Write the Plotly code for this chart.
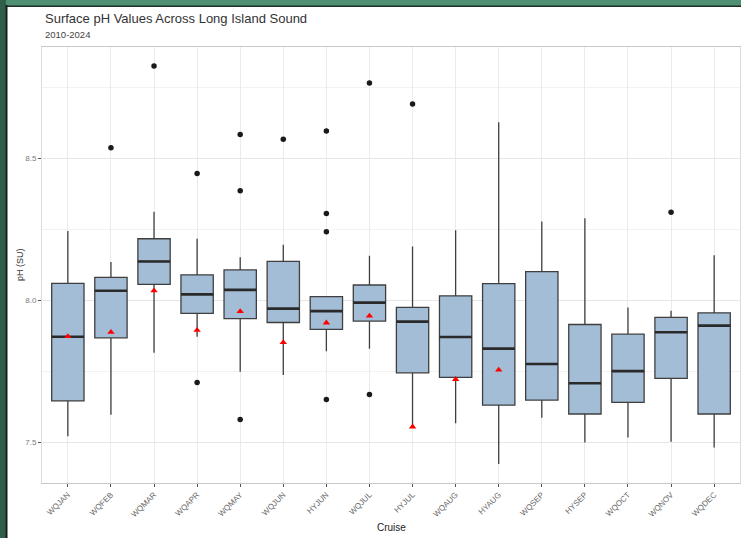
import plotly.graph_objects as go

# ---------------- data ----------------
cruises = ["WQJAN", "WQFEB", "WQMAR", "WQAPR", "WQMAY", "WQJUN", "HYJUN", "WQJUL",
           "HYJUL", "WQAUG", "HYAUG", "WQSEP", "HYSEP", "WQOCT", "WQNOV", "WQDEC"]
q1 = [7.645, 7.867, 8.055, 7.953, 7.935, 7.921, 7.897, 7.926,
      7.744, 7.728, 7.630, 7.648, 7.599, 7.640, 7.724, 7.599]
median = [7.871, 8.033, 8.136, 8.020, 8.036, 7.970, 7.961, 7.991,
          7.924, 7.870, 7.829, 7.775, 7.707, 7.750, 7.887, 7.910]
q3 = [8.059, 8.080, 8.216, 8.089, 8.106, 8.136, 8.012, 8.053,
      7.974, 8.015, 8.058, 8.100, 7.914, 7.880, 7.939, 7.955]
lower_whisker = [7.521, 7.596, 7.815, 7.871, 7.748, 7.736, 7.820, 7.829,
                 7.554, 7.566, 7.423, 7.586, 7.499, 7.516, 7.501, 7.481]
upper_whisker = [8.243, 8.134, 8.311, 8.216, 8.151, 8.195, 8.012, 8.156,
                 8.189, 8.246, 8.626, 8.277, 8.288, 7.974, 7.962, 8.158]
mean_cruise = ["WQJAN", "WQFEB", "WQMAR", "WQAPR", "WQMAY", "WQJUN", "HYJUN",
               "WQJUL", "HYJUL", "WQAUG", "HYAUG"]
mean_value = [7.872, 7.887, 8.033, 7.894, 7.960, 7.851, 7.920,
              7.944, 7.554, 7.721, 7.754]
outlier_cruise = ["WQFEB", "WQMAR", "WQAPR", "WQAPR", "WQMAY", "WQMAY", "WQMAY",
                  "WQJUN", "HYJUN", "HYJUN", "HYJUN", "HYJUN", "WQJUL", "WQJUL",
                  "HYJUL", "WQNOV"]
outlier_value = [8.536, 8.824, 8.446, 7.710, 8.583, 8.385, 7.580,
                 8.566, 8.595, 8.305, 8.241, 7.650, 8.764, 7.668,
                 8.690, 8.309]
y_ticks = [7.5, 8.0, 8.5]
y_tick_labels = ["7.5", "8.0", "8.5"]

# ---------------- figure ----------------
idx = {c: i for i, c in enumerate(cruises)}
xs = list(range(len(cruises)))
box_width = 0.75
half = box_width / 2

fig = go.Figure()
fig.add_trace(go.Box(
    x=xs, q1=q1, median=median, q3=q3,
    lowerfence=lower_whisker, upperfence=upper_whisker,
    boxpoints=False, whiskerwidth=0, width=box_width,
    fillcolor="#a3bdd6", line=dict(color="#3f3f3f", width=1.3),
    showlegend=False, hoverinfo="skip",
))

mx, my = [], []
for i, m in enumerate(median):
    mx += [i - half, i + half, None]
    my += [m, m, None]
fig.add_trace(go.Scatter(x=mx, y=my, mode="lines",
                         line=dict(color="#2a2a2a", width=2.6),
                         showlegend=False, hoverinfo="skip"))

fig.add_trace(go.Scatter(x=[idx[c] for c in outlier_cruise], y=outlier_value,
                         mode="markers",
                         marker=dict(color="#1a1a1a", size=5.5, symbol="circle"),
                         showlegend=False))

fig.add_trace(go.Scatter(x=[idx[c] for c in mean_cruise], y=mean_value,
                         mode="markers",
                         marker=dict(color="#ff0000", size=6.5, symbol="triangle-up"),
                         showlegend=False))

W, H = 741, 538
ML, MR, MT, MB = 42, 1, 47, 55
PW, PH = W - ML - MR, H - MT - MB


def px(x):
    return (x - ML) / PW


def py(y):
    return (H - y - MB) / PH


shapes = [
    # photo frame: green strips at top and left
    dict(type="rect", xref="paper", yref="paper", x0=px(0), x1=px(W), y0=py(6), y1=py(0),
         fillcolor="#4f8f72", line=dict(width=0), layer="above"),
    dict(type="rect", xref="paper", yref="paper", x0=px(0), x1=px(W), y0=py(7), y1=py(5.5),
         fillcolor="#1e2e28", line=dict(width=0), layer="above"),
    dict(type="rect", xref="paper", yref="paper", x0=px(0), x1=px(6), y0=py(H), y1=py(0),
         fillcolor="#2f5e4b", line=dict(width=0), layer="above"),
    dict(type="rect", xref="paper", yref="paper", x0=px(5.5), x1=px(7.5), y0=py(H), y1=py(5),
         fillcolor="#15201c", line=dict(width=0), layer="above"),
]

annotations = [
    dict(text="Surface pH Values Across Long Island Sound", xref="paper", yref="paper",
         x=px(43), y=py(18.5), xanchor="left", yanchor="middle", showarrow=False,
         font=dict(size=13, color="#333333")),
    dict(text="2010-2024", xref="paper", yref="paper",
         x=px(43), y=py(34), xanchor="left", yanchor="middle", showarrow=False,
         font=dict(size=9.5, color="#444444")),
    dict(text="pH (SU)", xref="paper", yref="paper", textangle=-90,
         x=px(20), y=py(265), xanchor="center", yanchor="middle", showarrow=False,
         font=dict(size=9, color="#333333")),
    dict(text="Cruise", xref="paper", yref="paper",
         x=px(391), y=py(527), xanchor="center", yanchor="middle", showarrow=False,
         font=dict(size=10, color="#222222")),
]

fig.update_layout(
    width=W, height=H,
    margin=dict(l=ML, r=MR, t=MT, b=MB, autoexpand=False),
    paper_bgcolor="white", plot_bgcolor="white",
    font=dict(family="Liberation Sans, Arial, sans-serif"),
    shapes=shapes, annotations=annotations,
)
fig.update_xaxes(
    automargin=False,
    range=[-0.6, len(cruises) - 0.4],
    tickmode="array", tickvals=xs, ticktext=cruises, tickangle=-45,
    tickfont=dict(size=8, color="#6a6a6a"),
    showgrid=True, gridcolor="#ebebeb", gridwidth=1,
    zeroline=False,
    showline=True, linecolor="#c8c8c8", linewidth=1, mirror=True,
    ticks="outside", ticklen=3, tickcolor="#555555",
)
fig.update_yaxes(
    automargin=False,
    range=[7.356, 8.891],
    tickmode="array", tickvals=y_ticks, ticktext=y_tick_labels,
    tickfont=dict(size=8, color="#7a7a7a"),
    showgrid=True, gridcolor="#e6e6e6", gridwidth=1,
    minor=dict(tickmode="array", tickvals=[7.75, 8.25, 8.75], showgrid=True,
               gridcolor="#f2f2f2", gridwidth=1, ticks=""),
    zeroline=False,
    showline=True, linecolor="#dcdcdc", linewidth=1, mirror=True,
    ticks="outside", ticklen=3, tickcolor="#555555",
)

fig.write_html("out.html", config={"displayModeBar": False},
               post_script="document.body.style.margin='0';")
